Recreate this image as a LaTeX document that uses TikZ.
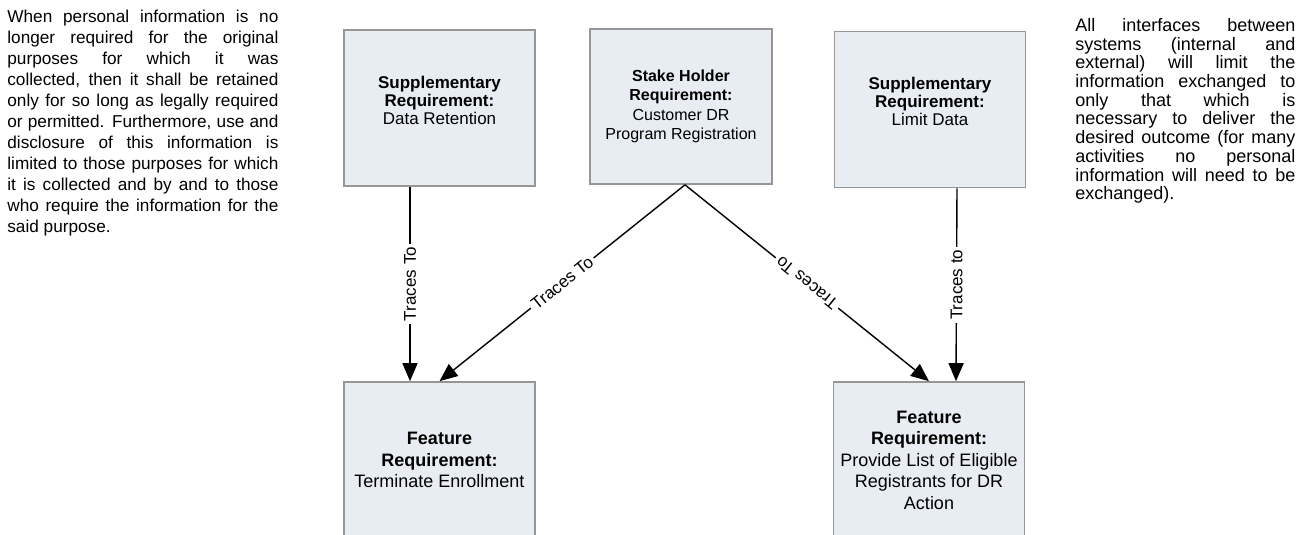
\documentclass[tikz,border=0pt]{standalone}
\usepackage{fontspec}
\setmainfont{Liberation Sans}
\usetikzlibrary{arrows.meta}

\definecolor{boxfill}{RGB}{232,237,243}
\definecolor{boxline}{RGB}{150,150,150}

\begin{document}
\begin{tikzpicture}[x=0.5pt, y=-0.5pt,
        reqbox/.style={draw=boxline, fill=boxfill, line width=0.8pt,
            minimum width=95.5pt, minimum height=78pt, align=center,
            inner sep=2pt, font=\fontsize{8.5}{9}\selectfont},
        featbox/.style={reqbox, font=\fontsize{9}{10.75}\selectfont},
        trace/.style={-{Triangle[length=9pt,width=7.5pt]}, line width=0.7pt},
        tracelabel/.style={fill=white, inner sep=1.5pt, font=\fontsize{8.5}{10}\selectfont},
        note/.style={anchor=north west, inner sep=0pt, align=justify}]

    % Рамка рисунка
    \useasboundingbox (0,0) rectangle (1297,535);
    \clip (0,0) rectangle (1297,535);

    % Требования
    \node[reqbox] (dataret) at (439.5,108) {\textbf{Supplementary}\\\textbf{Requirement:}\\Data Retention\\[-1pt]};
    \node[reqbox, minimum width=91pt, minimum height=77.5pt, font=\fontsize{8}{9.75}\selectfont] (stake) at (681,106.5)
        {\textbf{Stake Holder}\\\textbf{Requirement:}\\Customer DR\\Program Registration};
    \node[reqbox] (limit) at (930,109.5) {\textbf{Supplementary}\\\textbf{Requirement:}\\Limit Data\\[-1pt]};
    \node[featbox] (terminate) at (439.5,460) {\textbf{Feature}\\\textbf{Requirement:}\\Terminate Enrollment};
    \node[featbox] (eligible) at (929,460) {\textbf{Feature}\\\textbf{Requirement:}\\Provide List of Eligible\\Registrants for DR\\Action};

    % Связи
    \draw[trace] ([xshift=-14.75pt]dataret.south) -- node[tracelabel, midway, rotate=90] {Traces To} ([xshift=-14.75pt]terminate.north);
    \draw[trace] ([xshift=2pt]stake.south) -- node[tracelabel, midway, sloped] {Traces To} (terminate.north);
    \draw[trace] ([xshift=2pt]stake.south) -- node[tracelabel, midway, sloped, rotate=180] {Traces To} (eligible.north);
    \draw[trace] ([xshift=13.5pt]limit.south) -- node[tracelabel, midway, rotate=90] {Traces to} ([xshift=13.5pt]eligible.north);

    % Пояснения
    \node[note, text width=135.5pt, font=\fontsize{8.6}{10.5}\selectfont] (retnote) at (7,10)
        {When personal information is no\linebreak
        longer required for the original\linebreak
        purposes for which it was\linebreak
        collected, then it shall be retained\linebreak
        only for so long as legally required\linebreak
        or permitted. Furthermore, use and\linebreak
        disclosure of this information is\linebreak
        limited to those purposes for which\linebreak
        it is collected and by and to those\linebreak
        who require the information for the\linebreak
        said purpose.};
    \node[note, text width=110pt, font=\fontsize{9}{9.35}\selectfont] (limitnote) at (1075,18)
        {All interfaces between\linebreak
        systems (internal and\linebreak
        external) will limit the\linebreak
        information exchanged to\linebreak
        only that which is\linebreak
        necessary to deliver the\linebreak
        desired outcome (for many\linebreak
        activities no personal\linebreak
        information will need to be\linebreak
        exchanged).};
\end{tikzpicture}
\end{document}
